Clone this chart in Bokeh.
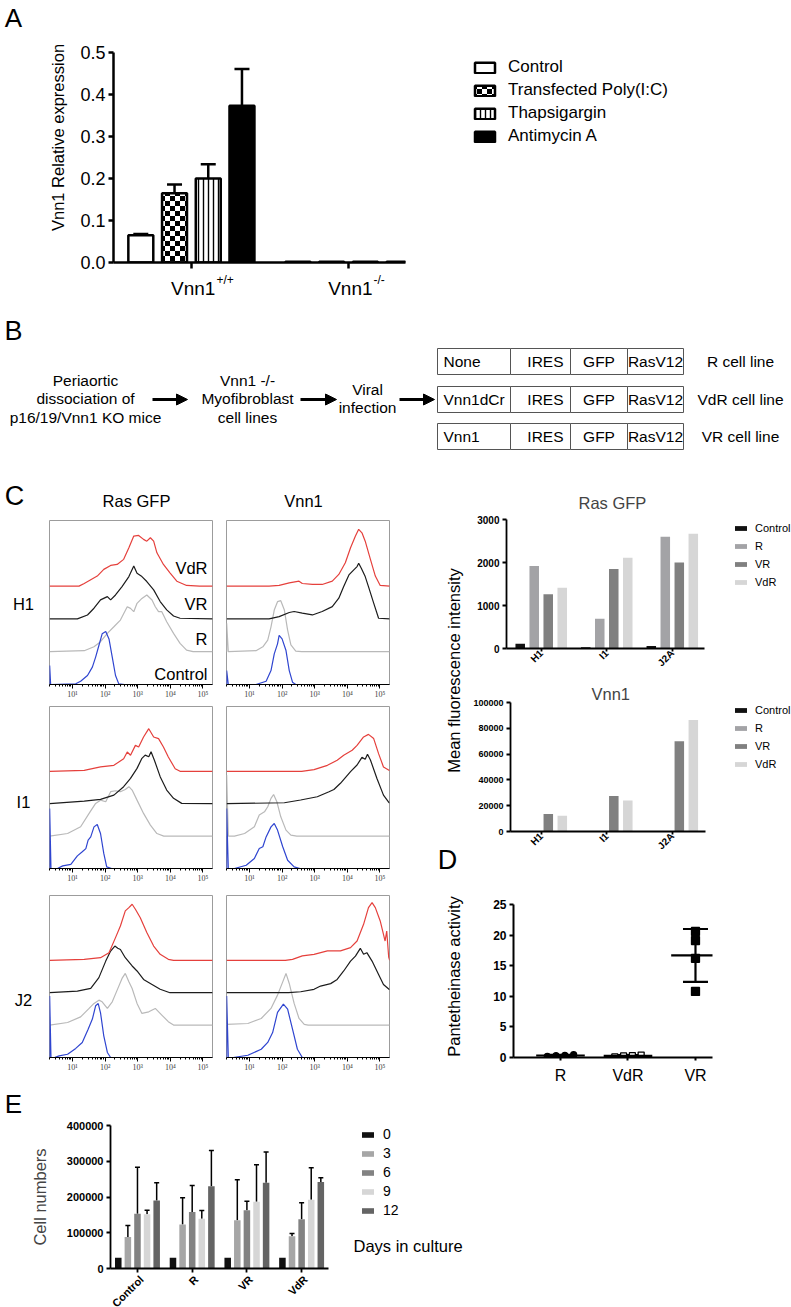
import math
import base64
from bokeh.plotting import figure
from bokeh.models import (Range1d, Label, Legend, LegendItem, Whisker, TeeHead, ColumnDataSource,
                          FixedTicker, Arrow, NormalHead, ImageURLTexture, PrintfTickFormatter, Title)
from bokeh.core.properties import value
from bokeh.layouts import row, column
from bokeh.embed import file_html
from bokeh.resources import INLINE

SANS = "Liberation Sans"
SERIF = "Liberation Serif"

# ------------------------------------------------------------------ data
# Panel A
A_GROUPS = ["Vnn1", "Vnn1"]
A_GROUP_SUP = ["+/+", "-/-"]
A_TREATMENTS = ["Control", "Transfected Poly(I:C)", "Thapsigargin", "Antimycin A"]
A_MEAN_WT = [0.065, 0.165, 0.200, 0.373]
A_ERR_WT = [0.003, 0.021, 0.034, 0.088]
A_MEAN_KO = [0.002, 0.002, 0.002, 0.002]
A_ERR_KO = [0.0, 0.0, 0.0, 0.0]

# Panel B
B_STEPS = [["Periaortic", "dissociation of", "p16/19/Vnn1 KO mice"],
           ["Vnn1 -/-", "Myofibroblast", "cell lines"],
           ["Viral", "infection"]]
B_INSERTS = ["None", "Vnn1dCr", "Vnn1"]
B_ELEMENTS = ["IRES", "GFP", "RasV12"]
B_LINES = ["R cell line", "VdR cell line", "VR cell line"]

# Panel C histograms: (log10 fluorescence, relative count)
H1_GFP_CTRL = [(0.30, 0), (0.30, 11.6), (0.33, 0), (1.10, 0.4), (1.25, 2), (1.46, 5.5), (1.61, 10.6), (1.71, 16.7), (1.81, 23.8), (1.91, 30.9), (2.02, 32.3), (2.12, 27.8), (2.22, 16.7), (2.32, 5.5), (2.42, 0.4), (2.60, 0), (5.30, 0)]
H1_GFP_R = [(0.30, 0), (1.36, 0.6), (1.66, 3.0), (1.86, 6.1), (2.07, 11.2), (2.27, 15.2), (2.47, 19.3), (2.68, 27.4), (2.78, 26.4), (2.88, 24.4), (2.98, 29.5), (3.13, 32.5), (3.28, 34.6), (3.44, 31.5), (3.54, 27.4), (3.64, 24.4), (3.74, 24.4), (3.89, 18.3), (4.10, 11.2), (4.30, 5.1), (4.50, 1.0), (4.70, 0), (5.30, 0)]
H1_GFP_VR = [(0.30, 0), (1.15, 0), (1.46, 2.4), (1.66, 6.5), (1.86, 11.6), (2.07, 13.6), (2.17, 11.6), (2.32, 14.6), (2.52, 19.7), (2.73, 25.8), (2.88, 32.3), (2.98, 27.8), (3.13, 25.8), (3.28, 22.8), (3.49, 17.7), (3.69, 10.6), (3.89, 5.5), (4.10, 1.8), (4.30, 0.4), (5.30, 0)]
H1_GFP_VDR = [(0.30, 0), (1.20, 0), (1.36, 1.6), (1.76, 6.1), (1.96, 10.2), (2.17, 12.6), (2.37, 13.2), (2.57, 16.3), (2.73, 23.4), (2.88, 30.5), (3.03, 30.9), (3.18, 28.5), (3.28, 27.4), (3.39, 29.5), (3.49, 27.4), (3.59, 20.3), (3.79, 13.2), (3.99, 8.1), (4.20, 3.0), (4.50, 0.4), (4.90, 0), (5.30, 0)]
H1_VNN_CTRL = [(0.30, 0), (0.30, 8.5), (0.35, 0), (1.20, 0), (1.51, 2), (1.66, 8.5), (1.76, 18.7), (1.86, 24.8), (1.91, 29.9), (2.00, 27.8), (2.12, 20.7), (2.22, 8.5), (2.32, 1.4), (2.42, 0), (5.30, 0)]
H1_VNN_R = [(0.30, 0), (0.30, 17.3), (0.35, 0), (1.20, 0.6), (1.41, 3.0), (1.56, 7.1), (1.66, 15.2), (1.76, 25.4), (1.86, 30.5), (1.96, 31.1), (2.07, 25.4), (2.17, 13.2), (2.27, 4.1), (2.42, 0.4), (2.60, 0), (5.30, 0)]
H1_VNN_VR = [(0.30, 0), (1.60, 0), (1.91, 1.4), (2.22, 3.9), (2.37, 4.5), (2.62, 3.5), (2.93, 2.4), (3.23, 4.5), (3.54, 7.5), (3.74, 12.6), (3.89, 19.7), (4.05, 26.8), (4.20, 29.9), (4.30, 31.9), (4.35, 33.9), (4.43, 30.9), (4.55, 25.8), (4.65, 19.7), (4.81, 9.6), (4.96, 0.4), (5.30, 0)]
H1_VNN_VDR = [(0.30, 0), (1.60, 0), (1.91, 0.4), (2.22, 2.0), (2.52, 3.0), (2.62, 1.6), (2.93, 1.0), (3.23, 1.0), (3.54, 3.0), (3.74, 7.1), (3.94, 14.2), (4.10, 23.4), (4.25, 30.5), (4.35, 34.6), (4.45, 32.5), (4.55, 27.4), (4.71, 16.3), (4.86, 6.1), (5.01, 0.4), (5.30, 0)]

I1_GFP_CTRL = [(0.30, 0), (0.30, 37), (0.34, 0), (0.54, 0), (0.70, 1.6), (0.95, 2.5), (1.15, 7.8), (1.30, 10.3), (1.41, 12.3), (1.48, 17.5), (1.56, 19.5), (1.66, 25.7), (1.76, 27.2), (1.86, 21.6), (1.96, 9.3), (2.05, 1.0), (2.20, 0), (5.30, 0)]
I1_GFP_R = [(0.30, 0), (0.85, 1.6), (1.25, 5.8), (1.51, 14.0), (1.71, 20.2), (1.86, 22.2), (2.02, 21.2), (2.17, 27.4), (2.32, 28.0), (2.47, 27.4), (2.62, 28.8), (2.73, 30.5), (2.83, 28.4), (2.98, 22.2), (3.18, 14.0), (3.39, 6.8), (3.59, 1.6), (3.80, 0), (5.30, 0)]
I1_GFP_VR = [(0.30, 0), (1.36, 1.6), (1.86, 2.7), (2.27, 5.3), (2.57, 10.5), (2.78, 15.6), (2.98, 21.8), (3.13, 28.0), (3.23, 30.0), (3.34, 29.0), (3.41, 32.1), (3.51, 27.0), (3.69, 16.7), (3.89, 8.4), (4.10, 3.3), (4.35, 0.2), (5.30, 0)]
I1_GFP_VDR = [(0.30, 0), (1.36, 0.6), (1.86, 2.7), (2.27, 3.7), (2.57, 7.8), (2.68, 11.9), (2.78, 9.9), (2.93, 16.0), (3.03, 15.0), (3.18, 21.2), (3.34, 26.3), (3.49, 21.2), (3.64, 20.2), (3.79, 15.0), (3.94, 8.8), (4.15, 1.6), (4.30, 0), (5.30, 0)]
I1_VNN_CTRL = [(0.30, 0), (0.30, 37), (0.35, 0), (0.54, 0), (0.90, 2.0), (1.15, 6.2), (1.30, 12.3), (1.41, 13.4), (1.51, 19.5), (1.66, 25.7), (1.76, 27.8), (1.86, 23.7), (2.02, 13.4), (2.17, 5.1), (2.37, 1.0), (2.55, 0), (5.30, 0)]
I1_VNN_R = [(0.30, 0), (0.30, 37.7), (0.35, 0), (0.54, 0), (0.85, 1.6), (1.15, 5.8), (1.30, 13.0), (1.46, 15.0), (1.56, 18.1), (1.66, 23.3), (1.74, 25.7), (1.84, 21.2), (1.96, 11.9), (2.12, 3.7), (2.27, 0.6), (2.45, 0), (5.30, 0)]
I1_VNN_VR = [(0.30, 0), (2.07, 0.6), (2.57, 2.3), (3.08, 4.3), (3.44, 7.4), (3.59, 8.8), (3.79, 12.6), (4.10, 19.8), (4.30, 23.9), (4.45, 28.6), (4.55, 27.4), (4.62, 30.5), (4.71, 27.0), (4.91, 15.6), (5.11, 5.3), (5.28, 0.6), (5.30, 0.5)]
I1_VNN_VDR = [(0.30, 0), (2.60, 0), (2.98, 1.0), (3.39, 3.7), (3.69, 6.8), (3.89, 9.9), (4.15, 13.0), (4.30, 16.0), (4.50, 21.2), (4.65, 22.8), (4.81, 20.2), (4.96, 10.9), (5.11, 2.7), (5.28, 0.6), (5.30, 0.6)]

J2_GFP_CTRL = [(0.30, 0), (0.30, 38), (0.34, 0), (0.45, 0), (0.59, 1.0), (0.85, 2.0), (1.10, 5.6), (1.30, 9.3), (1.48, 17.5), (1.61, 23.7), (1.71, 31.9), (1.79, 33.3), (1.86, 27.6), (1.96, 13.4), (2.07, 3.1), (2.17, 0), (5.30, 0)]
J2_GFP_R = [(0.30, 0), (0.85, 1.6), (1.25, 5.1), (1.51, 10.3), (1.66, 13.4), (1.81, 15.4), (1.91, 14.4), (2.07, 10.3), (2.22, 14.4), (2.37, 21.6), (2.52, 28.8), (2.62, 31.9), (2.73, 26.7), (2.83, 22.6), (2.98, 13.4), (3.13, 7.2), (3.34, 8.2), (3.54, 10.3), (3.74, 6.2), (3.94, 2.1), (4.10, 0), (5.30, 0)]
J2_GFP_VR = [(0.30, 0), (1.15, 1.0), (1.56, 2.7), (1.81, 9.3), (2.02, 19.5), (2.17, 25.7), (2.30, 28.8), (2.39, 27.4), (2.47, 26.7), (2.62, 21.6), (2.83, 16.5), (2.98, 13.4), (3.18, 8.2), (3.44, 5.1), (3.69, 2.1), (3.99, 0), (5.30, 0)]
J2_GFP_VDR = [(0.30, 0), (1.36, 0.6), (1.86, 1.6), (2.12, 4.7), (2.32, 14.0), (2.47, 21.2), (2.62, 30.5), (2.73, 32.5), (2.83, 34.6), (2.93, 31.5), (3.08, 26.3), (3.28, 17.1), (3.49, 8.8), (3.69, 3.7), (3.94, 0.6), (4.10, 0), (5.30, 0)]
J2_VNN_CTRL = [(0.30, 0), (0.30, 38), (0.35, 0), (0.50, 0), (0.95, 1.4), (1.36, 5.1), (1.56, 9.3), (1.71, 15.4), (1.86, 27.8), (2.04, 32.9), (2.17, 29.8), (2.32, 17.5), (2.47, 5.1), (2.62, 0), (5.30, 0)]
J2_VNN_R = [(0.30, 0), (0.30, 0.4), (0.95, 1.0), (1.36, 4.1), (1.66, 10.3), (1.86, 18.5), (2.02, 26.7), (2.12, 31.9), (2.22, 25.7), (2.37, 13.4), (2.52, 4.1), (2.68, 0.4), (2.80, 0), (5.30, 0)]
J2_VNN_VR = [(0.30, 0), (2.20, 0), (2.57, 0.6), (2.98, 2.1), (3.18, 4.1), (3.49, 5.6), (3.69, 8.2), (3.89, 13.4), (4.10, 19.5), (4.25, 22.6), (4.40, 27.4), (4.50, 23.7), (4.60, 24.7), (4.76, 19.5), (4.96, 11.3), (5.11, 5.1), (5.28, 2.1), (5.30, 2.0)]
J2_VNN_VDR = [(0.30, 0), (2.10, 0), (2.32, 0.6), (2.62, 2.7), (2.98, 3.7), (3.39, 5.8), (3.79, 5.8), (4.10, 7.8), (4.30, 11.9), (4.50, 22.2), (4.65, 32.5), (4.76, 35.6), (4.86, 32.5), (5.01, 24.3), (5.16, 11.9), (5.21, 18.1), (5.27, 2.0), (5.30, 0)]

HIST_ROWS = ["H1", "I1", "J2"]
HIST_COLS = ["Ras GFP", "Vnn1"]
HIST_SERIES = ["Control", "R", "VR", "VdR"]
HIST_MAJOR = [10, 100, 1000, 10000, 100000]
HIST_TICK_LABELS = ["10\u00b9", "10\u00b2", "10\u00b3", "10\u2074", "10\u2075"]

# Panel C bar charts (mean fluorescence intensity)
MFI_LINES = ["H1", "I1", "J2A"]
MFI_SERIES = ["Control", "R", "VR", "VdR"]
RAS_CONTROL = [110, 30, 60]
RAS_R = [1920, 690, 2600]
RAS_VR = [1260, 1850, 2000]
RAS_VDR = [1410, 2110, 2670]
VNN_CONTROL = [0, 0, 0]
VNN_R = [0, 0, 0]
VNN_VR = [13500, 27500, 70000]
VNN_VDR = [12300, 24000, 86500]

# Panel D
D_GROUPS = ["R", "VdR", "VR"]
D_R = [0.20, 0.30, 0.35, 0.45]
D_VDR = [0.10, 0.25, 0.30, 0.40]
D_VR = [20.6, 19.1, 16.2, 10.8]

# Panel E
E_GROUPS = ["Control", "R", "VR", "VdR"]
E_DAYS = ["0", "3", "6", "9", "12"]
E_MEAN_CONTROL = [30000, 88000, 153000, 152000, 190000]
E_SD_CONTROL = [0, 32000, 130000, 11000, 50000]
E_MEAN_R = [30000, 123000, 158000, 139000, 230000]
E_SD_R = [0, 75000, 74000, 23000, 100000]
E_MEAN_VR = [30000, 135000, 163000, 187000, 240000]
E_SD_VR = [0, 113000, 25000, 103000, 86000]
E_MEAN_VDR = [30000, 90000, 138000, 192000, 242000]
E_SD_VDR = [0, 8000, 46000, 90000, 12000]


# ------------------------------------------------------------------ helpers
def fig_at(rect, frame=None, xr=None, yr=None, **kw):
    X0, Y0, X1, Y1 = rect
    x0, y0, x1, y1 = frame if frame is not None else rect
    p = figure(width=X1 - X0, height=Y1 - Y0, frame_width=x1 - x0, frame_height=y1 - y0,
               x_range=xr if xr is not None else Range1d(X0, X1),
               y_range=yr if yr is not None else Range1d(Y1, Y0),
               output_backend="svg", toolbar_location=None, title=None,
               min_border_left=x0 - X0, min_border_right=X1 - x1,
               min_border_top=y0 - Y0, min_border_bottom=Y1 - y1, **kw)
    if "frame_align" in p.properties():
        p.frame_align = False
    for g in p.grid:
        g.visible = False
    p.outline_line_color = None
    p.background_fill_color = "white"
    p.border_fill_color = "white"
    return p


def text_fig(rect, xr=None):
    return fig_at(rect, xr=xr, x_axis_location=None, y_axis_location=None)


def aligned_range(rng, fx0, fx1, gx0, gx1):
    u = (fx1 - fx0) / (rng.end - rng.start)
    s = rng.start - (fx0 - gx0) / u
    return Range1d(s, s + (gx1 - gx0) / u)


def txt(p, x, y, text, size, align="center", baseline="middle", angle=0.0, style="normal",
        color="black", font=SANS, x_offset=0):
    p.add_layout(Label(x=x, y=y, x_offset=x_offset, text=text, text_font=font,
                       text_font_size=f"{size}px", text_font_style=style, text_align=align,
                       text_baseline=baseline, angle=angle, text_color=color))


def stxt(p, frame, x, y, text, size, align="center"):
    fx0, fy0, fx1, fy1 = frame
    p.add_layout(Label(x=x - fx0, y=fy1 - y, x_units="screen", y_units="screen", text=text,
                       text_font=SANS, text_font_size=f"{size}px", text_align=align,
                       text_baseline="middle", text_color="black"))


def style_axis(ax, lw, tick_out, size, bold=False, standoff=3, font=SANS, color="black"):
    ax.axis_line_width = lw
    ax.axis_line_color = "black"
    ax.major_tick_line_width = lw
    ax.major_tick_line_color = "black"
    ax.major_tick_out = tick_out
    ax.major_tick_in = 0
    ax.minor_tick_line_color = None
    ax.major_label_text_font = font
    ax.major_label_text_font_size = f"{size}px"
    ax.major_label_text_font_style = "bold" if bold else "normal"
    ax.major_label_text_color = color
    ax.major_label_standoff = standoff


def hide_labels(ax):
    ax.major_label_text_color = None
    ax.major_label_text_font_size = "1px"
    ax.major_label_standoff = 0


def legend_swatch(p, rect, **style):
    # a hidden one-bar renderer; it is never drawn in the frame and only feeds the legend glyph
    r = p.vbar(x=[rect[0]], top=[rect[1]], bottom=rect[1], width=1, **style)
    r.visible = False
    return r


def add_legend(p, rect, items, x_left, y_first, glyph_w, glyph_h, label_h, spacing, size, standoff):
    X0, Y0, X1, Y1 = rect
    n = len(items)
    h = n * label_h + (n - 1) * spacing
    top = y_first - label_h / 2.0
    lg = Legend(items=items, location=(x_left - X0, Y1 - (top + h)), orientation="vertical",
                glyph_width=glyph_w, glyph_height=glyph_h, label_height=label_h, spacing=spacing,
                padding=0, margin=0, border_line_color=None, background_fill_alpha=0,
                label_text_font=SANS, label_text_font_size=f"{size}px", label_standoff=standoff,
                label_text_color="black", click_policy="none")
    p.add_layout(lg)


W = 791

# ------------------------------------------------------------------ Panel A
pA_letter = text_fig((0, 0, W, 36))
txt(pA_letter, 13, 17, "A", 26)

pA_ylab = text_fig((0, 36, 70, 300))
txt(pA_ylab, 57, 137, "Vnn1 Relative expression", 16.5, angle=math.pi / 2)

rectA = (70, 36, 440, 274)
frA = (113, 52, 405, 262)
A_STEP = 4.66
xrA = Range1d(-2.31, 6.35)
pA = fig_at(rectA, frA, xrA, Range1d(0, 0.5))

chk_svg = ("<svg xmlns='http://www.w3.org/2000/svg' width='10' height='10'>"
           "<rect width='10' height='10' fill='white'/>"
           "<rect width='5' height='5' fill='black'/>"
           "<rect x='5' y='5' width='5' height='5' fill='black'/></svg>")
checker = ImageURLTexture(url="data:image/svg+xml;base64," + base64.b64encode(chk_svg.encode()).decode(),
                          repetition="repeat")
A_LOOK = [dict(fill_color="white"),
          dict(fill_color="white", hatch_pattern=value("chk"), hatch_extra={"chk": checker}),
          dict(fill_color="white", hatch_pattern="vertical_line", hatch_color="black",
               hatch_scale=5, hatch_weight=1.4),
          dict(fill_color="black")]

rectA_leg = (440, 36, W, 300)
pA_leg = text_fig(rectA_leg)
itemsA = []
wx, wlo, whi = [], [], []
for k, t in enumerate(A_TREATMENTS):
    xs = [g * A_STEP + (k - 1.5) for g in range(2)]
    tops = [A_MEAN_WT[k], A_MEAN_KO[k]]
    errs = [A_ERR_WT[k], A_ERR_KO[k]]
    pA.vbar(x=xs, top=tops, bottom=0, width=0.74, line_color="black", line_width=2.5, **A_LOOK[k])
    sw = legend_swatch(pA_leg, rectA_leg, line_color="black", line_width=2.5, **A_LOOK[k])
    itemsA.append(LegendItem(label=t, renderers=[sw]))
    for x, m, e in zip(xs, tops, errs):
        if e > 0:
            wx.append(x); wlo.append(m); whi.append(m + e)
pA.add_layout(Whisker(source=ColumnDataSource(dict(x=wx, lo=wlo, hi=whi)), base="x", lower="lo", upper="hi",
                      dimension="height", line_width=2.5, line_color="black", lower_head=None,
                      upper_head=TeeHead(size=15, line_width=2.5, line_color="black")))
style_axis(pA.yaxis[0], 2.5, 5, 18, standoff=3)
pA.yaxis[0].ticker = FixedTicker(ticks=[0, 0.1, 0.2, 0.3, 0.4, 0.5])
pA.yaxis[0].formatter = PrintfTickFormatter(format="%.1f")
style_axis(pA.xaxis[0], 2.5, 6, 1)
hide_labels(pA.xaxis[0])
pA.xaxis[0].ticker = FixedTicker(ticks=[g * A_STEP for g in range(2)])
add_legend(pA_leg, rectA_leg, itemsA, 472, 67, 25, 13, 20, 3, 17, 11)

pA_xl = text_fig((70, 274, 440, 300), xr=aligned_range(xrA, frA[0], frA[2], 70, 440))
for g in range(2):
    txt(pA_xl, g * A_STEP, 288, A_GROUPS[g], 19, align="right", x_offset=24)
    txt(pA_xl, g * A_STEP, 279, A_GROUP_SUP[g], 12, align="left", x_offset=25)

bandA = column(pA_letter, row(pA_ylab, column(pA, pA_xl), pA_leg))

# ------------------------------------------------------------------ Panel B
pB = text_fig((0, 300, W, 462))
BS = 15.5
txt(pB, 13, 330, "B", 27)
step_x = [85, 247, 367]
step_y = [[380, 398, 417], [380, 398, 417], [389, 407]]
for sx, lines, ys in zip(step_x, B_STEPS, step_y):
    for ln, yy in zip(lines, ys):
        txt(pB, sx, yy, ln, BS)
for xa, xb in [(152, 187), (300, 336), (399, 434)]:
    pB.add_layout(Arrow(x_start=xa, y_start=399, x_end=xb, y_end=399, line_width=3, line_color="black",
                        end=NormalHead(size=11, line_color="black", fill_color="black", line_width=1)))
cell_edges = [437, 510, 570, 627, 683]
row_tops = [348, 386, 423]
lefts, rights, tops_, bots = [], [], [], []
for rt in row_tops:
    for c in range(4):
        lefts.append(cell_edges[c]); rights.append(cell_edges[c + 1])
        tops_.append(rt); bots.append(rt + 26)
pB.quad(left=lefts, right=rights, top=tops_, bottom=bots, fill_color="white", line_color="#555555", line_width=1)
for rt, ins, lab in zip(row_tops, B_INSERTS, B_LINES):
    cy = rt + 13
    txt(pB, cell_edges[0] + 6, cy, ins, BS, align="left")
    txt(pB, cell_edges[2] - 7, cy, B_ELEMENTS[0], BS, align="right")
    txt(pB, (cell_edges[2] + cell_edges[3]) / 2, cy, B_ELEMENTS[1], BS)
    txt(pB, (cell_edges[3] + cell_edges[4]) / 2, cy, B_ELEMENTS[2], BS)
    txt(pB, 740, cy, lab, BS)

# ------------------------------------------------------------------ Panel C histograms
HIST_COLOR = {"Control": "#2f45d0", "R": "#b9b9b9", "VR": "#1c1c1c", "VdR": "#e5403c"}
HIST_OFFSET = {"Control": 0, "R": 20, "VR": 40, "VdR": 60}
HIST_MINOR = [m * 10 ** k for k in range(0, 6) for m in range(2, 10)]


def hist_fig(fig_rect, frame, curves):
    p = fig_at(fig_rect, frame, Range1d(10 ** 0.295, 10 ** 5.295), Range1d(0, 100),
               x_axis_type="log", y_axis_location=None)
    p.outline_line_color = "#9c9c9c"
    ax = p.xaxis[0]
    ax.ticker = FixedTicker(ticks=HIST_MAJOR, minor_ticks=HIST_MINOR)
    ax.major_label_overrides = dict(zip(HIST_MAJOR, HIST_TICK_LABELS))
    style_axis(ax, 1, 4, 8, standoff=1, font=SERIF, color="#444444")
    ax.minor_tick_line_color = "black"
    ax.minor_tick_out = 2
    ax.minor_tick_in = 0
    for key, pts in curves:
        xs = [10 ** a for a, _ in pts]
        ys = [b + HIST_OFFSET[key] for _, b in pts]
        p.line(xs, ys, line_color=HIST_COLOR[key], line_width=1.2)
    return p


pH = text_fig((0, 462, 395, 512))
txt(pH, 14, 495, "C", 27)
txt(pH, 136, 500, HIST_COLS[0], 16.5)
txt(pH, 303, 500, HIST_COLS[1], 16.5)

row_fig_y = [(512, 700), (700, 883), (883, 1085)]
row_frame_y = [(520, 684), (705, 867), (893, 1055)]
row_label_y = [603, 800, 997]
hist_data = [
    ([("R", H1_GFP_R), ("VR", H1_GFP_VR), ("VdR", H1_GFP_VDR), ("Control", H1_GFP_CTRL)],
     [("R", H1_VNN_R), ("VR", H1_VNN_VR), ("VdR", H1_VNN_VDR), ("Control", H1_VNN_CTRL)]),
    ([("R", I1_GFP_R), ("VR", I1_GFP_VR), ("VdR", I1_GFP_VDR), ("Control", I1_GFP_CTRL)],
     [("R", I1_VNN_R), ("VR", I1_VNN_VR), ("VdR", I1_VNN_VDR), ("Control", I1_VNN_CTRL)]),
    ([("R", J2_GFP_R), ("VR", J2_GFP_VR), ("VdR", J2_GFP_VDR), ("Control", J2_GFP_CTRL)],
     [("R", J2_VNN_R), ("VR", J2_VNN_VR), ("VdR", J2_VNN_VDR), ("Control", J2_VNN_CTRL)]),
]
hist_rows = []
for i in range(3):
    fy = row_fig_y[i]
    ry = row_frame_y[i]
    frL = (49, ry[0], 212, ry[1])
    frR = (226, ry[0], 389, ry[1])
    plab = text_fig((0, fy[0], 41, fy[1]))
    txt(plab, 23, row_label_y[i], HIST_ROWS[i], 16.5)
    pl = hist_fig((41, fy[0], 219, fy[1]), frL, hist_data[i][0])
    pr = hist_fig((219, fy[0], 395, fy[1]), frR, hist_data[i][1])
    if i == 0:
        lab_y = {"VdR": 567, "VR": 603, "R": 638, "Control": 673}
        for s in HIST_SERIES:
            stxt(pl, frL, 207, lab_y[s], s, 16.5, align="right")
    hist_rows.append(row(plab, pl, pr))
left_col = column(pH, *hist_rows)

# ------------------------------------------------------------------ Panel C bar charts
MFI_COLORS = ["#111111", "#a3a3a6", "#808080", "#d6d6d6"]
MFI_STEP = 4.68


def mfi_block(rect, frame, leg_rect, xr, ymax, ystep, ysize, series, title, t_off, t_stand, leg_y):
    p = fig_at(rect, frame, xr, Range1d(0, ymax))
    pl = text_fig(leg_rect)
    items = []
    for k, vals in enumerate(series):
        xs = [g * MFI_STEP + (k - 1.5) for g in range(len(MFI_LINES))]
        p.vbar(x=xs, top=vals, bottom=0, width=0.68, fill_color=MFI_COLORS[k], line_color=None)
        sw = legend_swatch(pl, leg_rect, fill_color=MFI_COLORS[k], line_color=None)
        items.append(LegendItem(label=MFI_SERIES[k], renderers=[sw]))
    style_axis(p.yaxis[0], 1.8, 4, ysize, bold=True, standoff=3)
    p.yaxis[0].ticker = FixedTicker(ticks=list(range(0, ymax + 1, ystep)))
    p.yaxis[0].formatter = PrintfTickFormatter(format="%d")
    centers = [g * MFI_STEP for g in range(len(MFI_LINES))]
    style_axis(p.xaxis[0], 1.8, 3, 10, bold=True, standoff=0)
    p.xaxis[0].ticker = FixedTicker(ticks=centers)
    p.xaxis[0].major_label_overrides = dict(zip(centers, MFI_LINES))
    p.xaxis[0].major_label_orientation = math.pi / 4
    p.add_layout(Title(text=title, align="left", offset=t_off, standoff=t_stand, text_font=SANS,
                       text_font_size="16.5px", text_font_style="normal"), "above")
    add_legend(pl, leg_rect, items, 733, leg_y, 15, 6, 14, 4, 11, 7)
    return row(p, pl)


rasBlock = mfi_block((470, 462, 715, 679), (506, 519, 704, 648), (715, 462, W, 679),
                     Range1d(-2.48, 11.66), 3000, 1000, 10,
                     [RAS_CONTROL, RAS_R, RAS_VR, RAS_VDR], "Ras GFP", 72, 15, 528)
vnnBlock = mfi_block((470, 679, 715, 862), (510, 702, 705, 831), (715, 679, W, 862),
                     Range1d(-2.2, 11.73), 100000, 20000, 9,
                     [VNN_CONTROL, VNN_R, VNN_VR, VNN_VDR], "Vnn1", 81, 0, 710)

# ------------------------------------------------------------------ Panel D
pD = fig_at((470, 862, W, 1085), (513, 904, 712, 1057), Range1d(-0.696, 2.252), Range1d(0, 25))
D_VALUES = [D_R, D_VDR, D_VR]
D_MARK = [dict(marker="circle", size=6, fill_color="black"),
          dict(marker="square", size=6, fill_color="white"),
          dict(marker="square", size=8, fill_color="black")]
D_SPREAD = [0.13, 0.13, 0.0]
wx, wlo, whi, mx0, mx1, my = [], [], [], [], [], []
for i, vals in enumerate(D_VALUES):
    n = len(vals)
    mean = sum(vals) / n
    sd = math.sqrt(sum((v - mean) ** 2 for v in vals) / (n - 1))
    xs = [i + (j - (n - 1) / 2) * D_SPREAD[i] for j in range(n)]
    pD.scatter(xs, vals, line_color="black", line_width=1.3, **D_MARK[i])
    wx.append(i); wlo.append(mean - sd); whi.append(mean + sd)
    mx0.append(i - 0.36); mx1.append(i + 0.36); my.append(mean)
pD.segment(x0=mx0, x1=mx1, y0=my, y1=my, line_color="black", line_width=2.2)
pD.add_layout(Whisker(source=ColumnDataSource(dict(x=wx, lo=wlo, hi=whi)), base="x", lower="lo", upper="hi",
                      dimension="height", line_width=2.2, line_color="black",
                      lower_head=TeeHead(size=25, line_width=2.2, line_color="black"),
                      upper_head=TeeHead(size=25, line_width=2.2, line_color="black")))
style_axis(pD.yaxis[0], 2, 4, 12, bold=True, standoff=3)
pD.yaxis[0].ticker = FixedTicker(ticks=[0, 5, 10, 15, 20, 25])
style_axis(pD.xaxis[0], 2, 3, 16, standoff=6)
pD.xaxis[0].ticker = FixedTicker(ticks=[0, 1, 2])
pD.xaxis[0].major_label_overrides = {0: D_GROUPS[0], 1: D_GROUPS[1], 2: D_GROUPS[2]}

# strip with shared y-labels and letter D
pS = text_fig((395, 462, 470, 1085))
txt(pS, 453, 670, "Mean fluorescence intensity", 16.5, angle=math.pi / 2)
txt(pS, 447, 859, "D", 27)
txt(pS, 453, 976, "Pantetheinase activity", 16.5, angle=math.pi / 2)

right_col = row(pS, column(rasBlock, vnnBlock, pD))
bandC = row(left_col, right_col)

# ------------------------------------------------------------------ Panel E
pE_letter = text_fig((0, 1085, 335, 1116))
txt(pE_letter, 13, 1101, "E", 26)

frE = (110, 1123, 328, 1266)
E_STEP = 5.7
xrE = Range1d(-2.81, 19.9)
pE = fig_at((0, 1116, 335, 1271), frE, xrE, Range1d(0, 400000))
rectE_leg = (335, 1085, W, 1307)
pE_leg = text_fig(rectE_leg)
E_COLORS = ["#111111", "#a6a6a6", "#828282", "#d6d6d6", "#646464"]
E_MEANS = [E_MEAN_CONTROL, E_MEAN_R, E_MEAN_VR, E_MEAN_VDR]
E_SDS = [E_SD_CONTROL, E_SD_R, E_SD_VR, E_SD_VDR]
itemsE = []
wx, wlo, whi = [], [], []
for d, day in enumerate(E_DAYS):
    xs = [g * E_STEP + (d - 2) for g in range(len(E_GROUPS))]
    tops = [E_MEANS[g][d] for g in range(len(E_GROUPS))]
    pE.vbar(x=xs, top=tops, bottom=0, width=0.68, fill_color=E_COLORS[d], line_color=None)
    sw = legend_swatch(pE_leg, rectE_leg, fill_color=E_COLORS[d], line_color=None)
    itemsE.append(LegendItem(label=day, renderers=[sw]))
    for g in range(len(E_GROUPS)):
        if E_SDS[g][d] > 0:
            wx.append(xs[g]); wlo.append(tops[g]); whi.append(tops[g] + E_SDS[g][d])
pE.add_layout(Whisker(source=ColumnDataSource(dict(x=wx, lo=wlo, hi=whi)), base="x", lower="lo", upper="hi",
                      dimension="height", line_width=1.5, line_color="black", lower_head=None,
                      upper_head=TeeHead(size=5, line_width=1.5, line_color="black")))
style_axis(pE.yaxis[0], 1.8, 4, 11, bold=True, standoff=3)
pE.yaxis[0].ticker = FixedTicker(ticks=[0, 100000, 200000, 300000, 400000])
pE.yaxis[0].formatter = PrintfTickFormatter(format="%d")
pE.yaxis[0].axis_label = "Cell numbers"
pE.yaxis[0].axis_label_text_font = SANS
pE.yaxis[0].axis_label_text_font_size = "16.5px"
pE.yaxis[0].axis_label_text_font_style = "normal"
pE.yaxis[0].axis_label_standoff = 15
style_axis(pE.xaxis[0], 1.8, 4, 1)
hide_labels(pE.xaxis[0])
e_centers = [g * E_STEP for g in range(len(E_GROUPS))]
pE.xaxis[0].ticker = FixedTicker(ticks=e_centers)
add_legend(pE_leg, rectE_leg, itemsE, 360, 1132, 15, 7, 16, 3, 14, 8)
txt(pE_leg, 353, 1243, "Days in culture", 16.5, align="left")

pE_xl = text_fig((0, 1271, 335, 1307), xr=aligned_range(xrE, frE[0], frE[2], 0, 335))
for c, name in zip(e_centers, E_GROUPS):
    txt(pE_xl, c, 1275, name, 11, align="right", angle=math.pi / 4, style="bold", x_offset=4)

bandE = row(column(pE_letter, pE, pE_xl), pE_leg)

layout = column(bandA, pB, bandC, bandE)
open("out.html", "w").write(file_html(layout, INLINE))
